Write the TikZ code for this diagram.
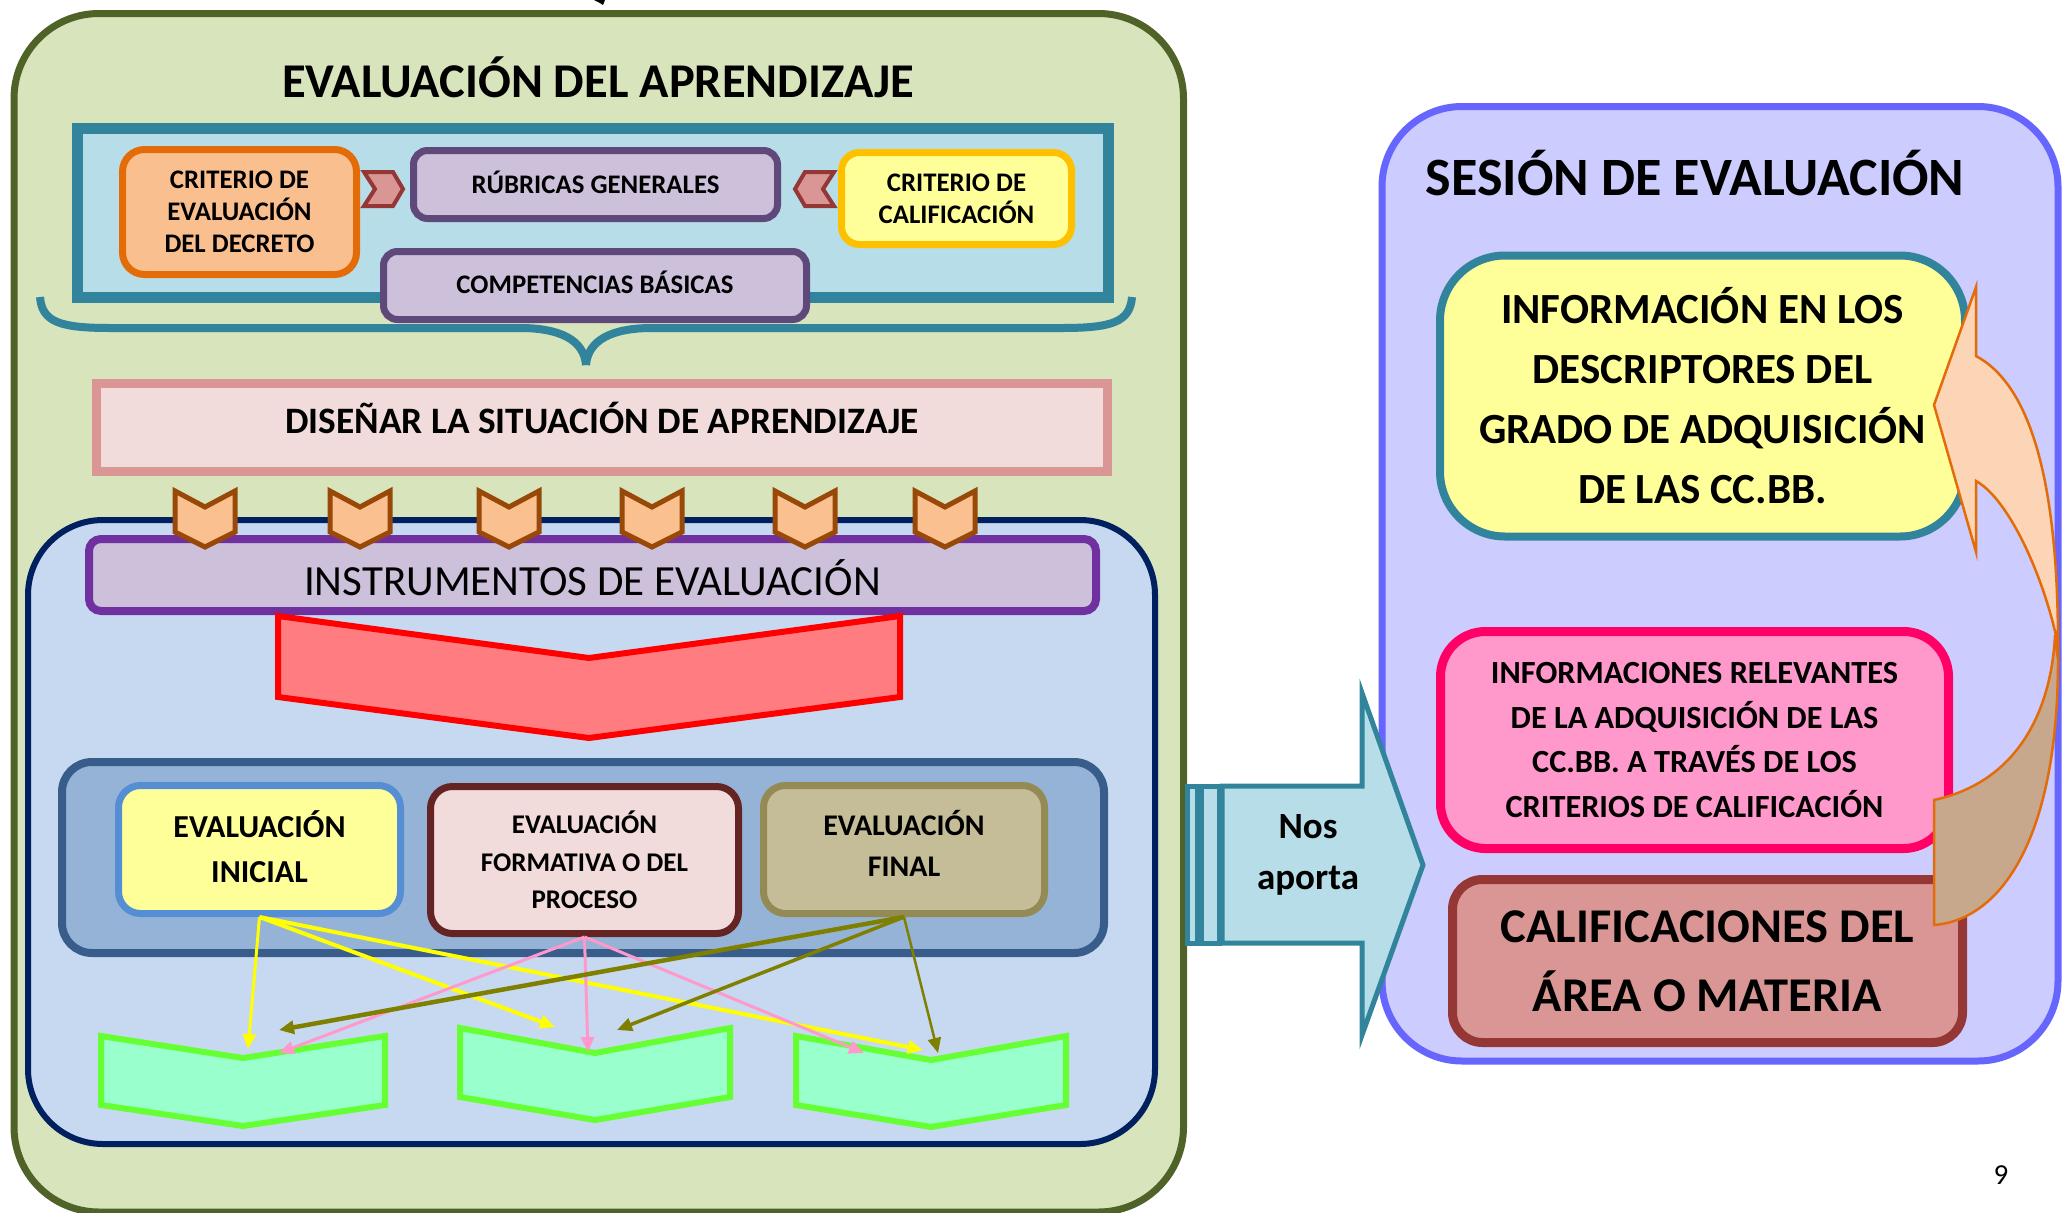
\documentclass[tikz,border=0pt]{standalone}
\usepackage{fontspec}
\setmainfont{Carlito}
\usetikzlibrary{arrows.meta}
\definecolor{panelgreen}{HTML}{D7E4BC}
\definecolor{olivedark}{HTML}{4F6228}
\definecolor{tealline}{HTML}{31849B}
\definecolor{tealfill}{HTML}{B7DEE8}
\definecolor{orangeline}{HTML}{E36C09}
\definecolor{orangefill}{HTML}{FABF8F}
\definecolor{lilacline}{HTML}{5F497A}
\definecolor{lilacfill}{HTML}{CCC0DA}
\definecolor{goldline}{HTML}{FFC000}
\definecolor{paleyellow}{HTML}{FFFF99}
\definecolor{redline}{HTML}{953735}
\definecolor{redfill}{HTML}{D99694}
\definecolor{rosefill}{HTML}{F2DCDB}
\definecolor{navyline}{HTML}{002060}
\definecolor{skyfill}{HTML}{C6D9F1}
\definecolor{brownline}{HTML}{984807}
\definecolor{peachfill}{HTML}{FAC090}
\definecolor{purpleline}{HTML}{7030A0}
\definecolor{salmon}{HTML}{FF7C80}
\definecolor{steelline}{HTML}{385D8A}
\definecolor{steelfill}{HTML}{95B3D7}
\definecolor{blueline}{HTML}{558ED5}
\definecolor{maroonline}{HTML}{632423}
\definecolor{khakiline}{HTML}{948A54}
\definecolor{khakifill}{HTML}{C4BD97}
\definecolor{limeline}{HTML}{66FF33}
\definecolor{mintfill}{HTML}{99FFCC}
\definecolor{arrowyellow}{HTML}{FFFF00}
\definecolor{arrowpink}{HTML}{FF99CC}
\definecolor{arrowolive}{HTML}{808000}
\definecolor{violetline}{HTML}{6666FF}
\definecolor{violetfill}{HTML}{CCCCFF}
\definecolor{hotpink}{HTML}{FF0066}
\definecolor{pinkfill}{HTML}{FF99CC}
\definecolor{curvefront}{HTML}{FBD5B5}
\definecolor{curveback}{HTML}{C8A88C}

\begin{document}
\begin{tikzpicture}[x=1pt, y=-1pt, >={Triangle[length=15pt,width=13pt]},
    box/.style={draw, inner sep=0pt},
    small/.style={font=\bfseries\fontsize{26.8}{32}\selectfont},
    link/.style={->, line width=#1}]
    \useasboundingbox (0,0) rectangle (2062,1213);

    % Left panel
    \node[box, draw=olivedark, fill=panelgreen, line width=7pt, rounded corners=85pt,
          minimum width=1169.5pt, minimum height=1198.5pt] (learn) at (598.75,612.75) {};
    \fill (594,0) -- (605,0) -- (603,5) .. controls (600,3) .. (594,0) -- cycle;
    \node[anchor=base, font=\bfseries\fontsize{48.5}{56}\selectfont] (learntitle) at (598,97) {EVALUACIÓN DEL APRENDIZAJE};

    % Brace
    \draw[tealline, line width=8pt] (40,297) .. controls (42,322) and (60,328) .. (110,328) -- (520,328)
        .. controls (560,328) and (584,340) .. (586,365);
    \draw[tealline, line width=8pt] (1132,297) .. controls (1130,322) and (1112,328) .. (1062,328) -- (652,328)
        .. controls (612,328) and (588,340) .. (586,365);

    % Criteria frame
    \node[box, draw=tealline, fill=tealfill, line width=11pt,
          minimum width=1031pt, minimum height=169pt] (frame) at (593,213) {};
    \node[box, small, align=center, draw=orangeline, fill=orangefill, line width=7pt, rounded corners=22pt,
          minimum width=234pt, minimum height=125pt] (decreto) at (239.5,212) {CRITERIO DE\\EVALUACIÓN\\DEL DECRETO};
    \node[box, small, draw=lilacline, fill=lilacfill, line width=7pt, rounded corners=14pt,
          minimum width=364pt, minimum height=68pt, text height=17pt, text depth=0pt] (rubricas) at (595.5,184.5) {RÚBRICAS GENERALES};
    \node[box, small, align=center, draw=goldline, fill=paleyellow, line width=7pt, rounded corners=18pt,
          minimum width=230pt, minimum height=92pt] (califcrit) at (956.5,198.5) {CRITERIO DE\\CALIFICACIÓN};
    \node[box, small, draw=lilacline, fill=lilacfill, line width=7pt, rounded corners=14pt,
          minimum width=423pt, minimum height=68pt, text height=17pt, text depth=2pt] (compet) at (595,285.5) {COMPETENCIAS BÁSICAS};
    \draw[draw=redline, fill=redfill, line width=4pt] (364,172) -- (393,172) -- (403,189) -- (393,206) -- (364,206) -- (375,189) -- cycle;
    \draw[draw=redline, fill=redfill, line width=4pt] (834,172) -- (805,172) -- (795,189) -- (805,206) -- (834,206) -- (823,189) -- cycle;

    % Design
    \node[box, draw=redfill, fill=rosefill, line width=9pt, minimum width=1011pt, minimum height=88pt,
          font=\bfseries\fontsize{37.3}{44}\selectfont, text height=24pt, text depth=12pt] (disenar) at (602,427.5)
          {DISEÑAR LA SITUACIÓN DE APRENDIZAJE};

    % Instruments area
    \node[box, draw=navyline, fill=skyfill, line width=6pt, rounded corners=75pt,
          minimum width=1127pt, minimum height=624pt] (tools) at (591.5,832) {};
    \node[box, draw=purpleline, fill=lilacfill, line width=8pt, rounded corners=12pt,
          minimum width=1007pt, minimum height=72pt, font=\fontsize{43}{50}\selectfont,
          text height=41pt, text depth=0pt] (instr) at (592.5,575) {INSTRUMENTOS DE EVALUACIÓN};
    \foreach \cx in {205,360,509,652,805,945}
        \draw[draw=brownline, fill=peachfill, line width=5pt] (\cx-30,491) -- (\cx,507) -- (\cx+30,491)
            -- (\cx+30,532) -- (\cx,547) -- (\cx-30,532) -- cycle;
    \draw[draw=red, fill=salmon, line width=6pt] (278,616) -- (589,658) -- (900,616) -- (900,697) -- (589,738) -- (278,697) -- cycle;

    % Moments
    \node[box, draw=steelline, fill=steelfill, line width=8pt, rounded corners=30pt,
          minimum width=1042pt, minimum height=191pt] (moments) at (583,857.5) {};
    \node[box, align=center, draw=blueline, fill=paleyellow, line width=7pt, rounded corners=22pt,
          minimum width=282pt, minimum height=128pt, font=\bfseries\fontsize{32}{45}\selectfont,
          text depth=6pt] (ini) at (259.5,849.5) {EVALUACIÓN\\INICIAL};
    \node[box, align=center, draw=maroonline, fill=rosefill, line width=7pt, rounded corners=22pt,
          minimum width=308pt, minimum height=147pt, font=\bfseries\fontsize{27}{37.5}\selectfont] (form) at (584.5,860) {EVALUACIÓN\\FORMATIVA O DEL\\PROCESO};
    \node[box, align=center, draw=khakiline, fill=khakifill, line width=7pt, rounded corners=22pt,
          minimum width=281pt, minimum height=128pt, font=\bfseries\fontsize{30}{41}\selectfont,
          text depth=12pt] (fin) at (904,849.5) {EVALUACIÓN\\FINAL};

    \draw[draw=limeline, fill=mintfill, line width=6pt] (101,1036) -- (243,1058) -- (385,1036) -- (385,1105) -- (243,1126) -- (101,1105) -- cycle;
    \draw[draw=limeline, fill=mintfill, line width=6pt] (460,1028) -- (595,1053) -- (730,1028) -- (730,1097) -- (595,1120) -- (460,1097) -- cycle;
    \draw[draw=limeline, fill=mintfill, line width=6pt] (796,1036) -- (931,1060) -- (1066,1036) -- (1066,1105) -- (931,1127) -- (796,1105) -- cycle;

    \coordinate (yL) at (248,1049);
    \coordinate (yM) at (555,1027);
    \coordinate (yR) at (923,1050);
    \coordinate (pL) at (279,1053);
    \coordinate (pM) at (588,1052);
    \coordinate (pR) at (864,1053);
    \coordinate (oL) at (279,1030);
    \coordinate (oM) at (617,1030);
    \coordinate (oR) at (938,1053);
    \draw[link=3pt, arrowyellow] (ini.south) -- (yL);
    \draw[link=4pt, arrowyellow] (ini.south) -- (yM);
    \draw[link=4pt, arrowyellow] (ini.south) -- (yR);
    \draw[link=3pt, arrowpink] (form.south) -- (pL);
    \draw[link=3pt, arrowpink] (form.south) -- (pM);
    \draw[link=3pt, arrowpink] (form.south) -- (pR);
    \draw[link=4.5pt, arrowolive] (fin.south) -- (oL);
    \draw[link=3.5pt, arrowolive] (fin.south) -- (oM);
    \draw[link=2.5pt, arrowolive] (fin.south) -- (oR);

    % Right panel
    \node[box, draw=violetline, fill=violetfill, line width=7pt, rounded corners=80pt,
          minimum width=676pt, minimum height=954.5pt] (session) at (1720,583.75) {};
    \node[anchor=base, font=\bfseries\fontsize{54}{60}\selectfont] (sessiontitle) at (1695,195) {SESIÓN DE EVALUACIÓN};
    \node[box, align=center, draw=tealline, fill=paleyellow, line width=8pt, rounded corners=65pt,
          minimum width=525pt, minimum height=281pt, font=\bfseries\fontsize{43}{60}\selectfont] (descr) at (1702.5,396)
          {INFORMACIÓN EN LOS\\DESCRIPTORES DEL\\GRADO DE ADQUISICIÓN\\DE LAS CC.BB.};
    \node[box, align=center, draw=hotpink, fill=pinkfill, line width=9pt, rounded corners=45pt,
          minimum width=508pt, minimum height=217pt, font=\bfseries\fontsize{32.3}{44.7}\selectfont] (relev) at (1694.5,740)
          {INFORMACIONES RELEVANTES\\DE LA ADQUISICIÓN DE LAS\\CC.BB. A TRAVÉS DE LOS\\CRITERIOS DE CALIFICACIÓN};
    \node[box, align=center, draw=redline, fill=redfill, line width=9pt, rounded corners=30pt,
          minimum width=510pt, minimum height=163pt, font=\bfseries\fontsize{48.5}{69}\selectfont] (grades) at (1707.5,961)
          {CALIFICACIONES DEL\\ÁREA O MATERIA};

    % Nos aporta
    \draw[draw=tealline, fill=tealfill, line width=5pt] (1187,786) rectangle (1197,943);
    \draw[draw=tealline, fill=tealfill, line width=5pt] (1201,786) rectangle (1219,943);
    \draw[draw=tealline, fill=tealfill, line width=5pt] (1222,786) -- (1362,786) -- (1362,693) -- (1423,865)
        -- (1362,1035) -- (1362,943) -- (1222,943) -- cycle;
    \node[align=center, font=\bfseries\fontsize{37}{51}\selectfont, inner sep=0pt] (gives) at (1308,855) {Nos\\aporta};

    % Curved arrow
    \draw[draw=orangeline, fill=curvefront, line width=2.5pt] (1934,405) -- (1976,287) -- (1976,356)
        .. controls (2030,385) and (2058,480) .. (2058,645)
        .. controls (2045,580) and (2010,500) .. (1976,481) -- (1976,552) -- cycle;
    \draw[draw=orangeline, fill=curveback, line width=2.5pt] (1934,800) -- (1934,925)
        .. controls (2000,920) and (2058,840) .. (2058,660) -- (2055,635)
        .. controls (2052,700) and (2025,780) .. (1934,800) -- cycle;

    \node[anchor=base, font=\fontsize{29}{34}\selectfont] (page) at (2001,1184) {9};
\end{tikzpicture}
\end{document}
